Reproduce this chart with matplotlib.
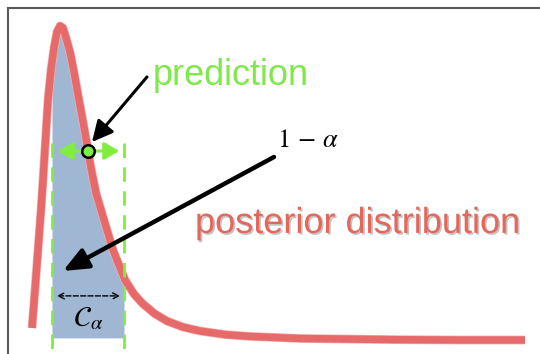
import numpy as np
import matplotlib
matplotlib.use("Agg")
import matplotlib.pyplot as plt
from matplotlib.patches import FancyArrowPatch
from matplotlib import patheffects as pe

plt.rcParams['mathtext.fontset'] = 'stix'

# posterior density (arbitrary units)
theta = [0.48, 0.54, 0.60, 0.66, 0.70, 0.75, 0.80, 0.86, 0.92, 0.98, 1.04, 1.10,
         1.16, 1.24, 1.32, 1.42, 1.52, 1.60, 1.66, 1.76, 1.92, 2.10, 2.34, 2.52,
         2.70, 2.94, 3.18, 3.50, 3.84, 4.34, 4.84, 5.84, 6.84, 7.84, 9.04, 10.34]
density = [0.040, 0.167, 0.300, 0.433, 0.533, 0.667, 0.800, 0.900, 0.973, 1.027,
           1.047, 1.040, 1.007, 0.960, 0.893, 0.800, 0.710, 0.633, 0.573, 0.490,
           0.400, 0.300, 0.200, 0.153, 0.120, 0.087, 0.063, 0.043, 0.030, 0.018,
           0.012, 0.005, 0.003, 0.001, 0.000, 0.000]

interval = [0.88, 2.32]        # credible interval C_alpha
prediction = (1.60, 0.63)      # predicted point

labels = {
    "prediction": "prediction",
    "posterior": "posterior distribution",
    "coverage": r"$1\,-\,\alpha$",
    "interval": r"$\mathcal{C}_\alpha$",
}

red = "#e66a6a"
green = "#80ee40"
blue = "#a0b7d4"

fig = plt.figure(figsize=(5.4, 3.54), dpi=100)
ax = fig.add_axes([8 / 540, 0, 532 / 540, 346 / 354])
ax.set_xlim(0, 10.64)
ax.set_ylim(-0.0467, 1.1067)
ax.set_xticks([])
ax.set_yticks([])
for s in ("right", "bottom"):
    ax.spines[s].set_visible(False)
for s in ("left", "top"):
    ax.spines[s].set_color("#5a5a5a")
    ax.spines[s].set_linewidth(1.5)

th = np.array(theta)
de = np.array(density)

# shaded interval
xs = np.linspace(interval[0], interval[1], 200)
ax.fill_between(xs, 0.007, np.interp(xs, th, de), color=blue, lw=0, zorder=1)

# posterior curve
ax.plot(th, de, color=red, lw=5.3, solid_capstyle="butt", zorder=3,
        path_effects=[pe.Stroke(linewidth=6.3, foreground="#f4b0b0"), pe.Normal()])

# dashed interval bounds
for xb in interval:
    ax.plot([xb, xb], [0.657, -0.06], color=green, lw=2.0, ls=(0, (5.2, 3.4)),
            zorder=4, clip_on=False)

# green double arrow
ga = FancyArrowPatch((interval[0] + 0.06, prediction[1]), (interval[1] - 0.04, prediction[1]),
                     arrowstyle="<|-|>,head_length=0.6,head_width=0.35",
                     mutation_scale=15, color=green, lw=2.2, zorder=5)
ax.add_patch(ga)
ax.plot([prediction[0]], [prediction[1]], "o", ms=9, mfc=green, mec="black",
        mew=1.8, zorder=6)

# arrow to prediction
a1 = FancyArrowPatch((2.78, 0.877), (1.68, 0.66),
                     arrowstyle="-|>,head_length=0.7,head_width=0.35",
                     mutation_scale=18, color="black", lw=2.2, zorder=7,
                     shrinkA=0, shrinkB=0)
ax.add_patch(a1)
ax.text(2.90, 0.85, labels["prediction"], color="#7fe84a", fontsize=26,
        family="Liberation Sans", ha="left", va="baseline", zorder=8)

# arrow for coverage
a2 = FancyArrowPatch((5.32, 0.61), (1.10, 0.23),
                     arrowstyle="-|>,head_length=0.75,head_width=0.32",
                     mutation_scale=20, color="black", lw=3.2, zorder=7,
                     shrinkA=0, shrinkB=0)
ax.add_patch(a2)
ax.text(5.38, 0.643, labels["coverage"], color="black", fontsize=19,
        ha="left", va="baseline", zorder=8)

ax.text(3.74, 0.357, labels["posterior"], color="#e4675a", fontsize=26,
        family="Liberation Sans", ha="left", va="baseline", zorder=8,
        path_effects=[pe.withSimplePatchShadow(offset=(1.2, -1.2),
                                               shadow_rgbFace="#888888", alpha=0.5)])

# interval width arrow
a3 = FancyArrowPatch((0.98, 0.147), (2.24, 0.147),
                     arrowstyle="<->,head_length=0.35,head_width=0.18",
                     mutation_scale=12, color="black", lw=1.0, ls="--", zorder=7,
                     shrinkA=0, shrinkB=0)
ax.add_patch(a3)
ax.text(1.60, 0.073, labels["interval"], color="black", fontsize=21,
        ha="center", va="center", zorder=8)

fig.savefig("out.png", dpi=100)
